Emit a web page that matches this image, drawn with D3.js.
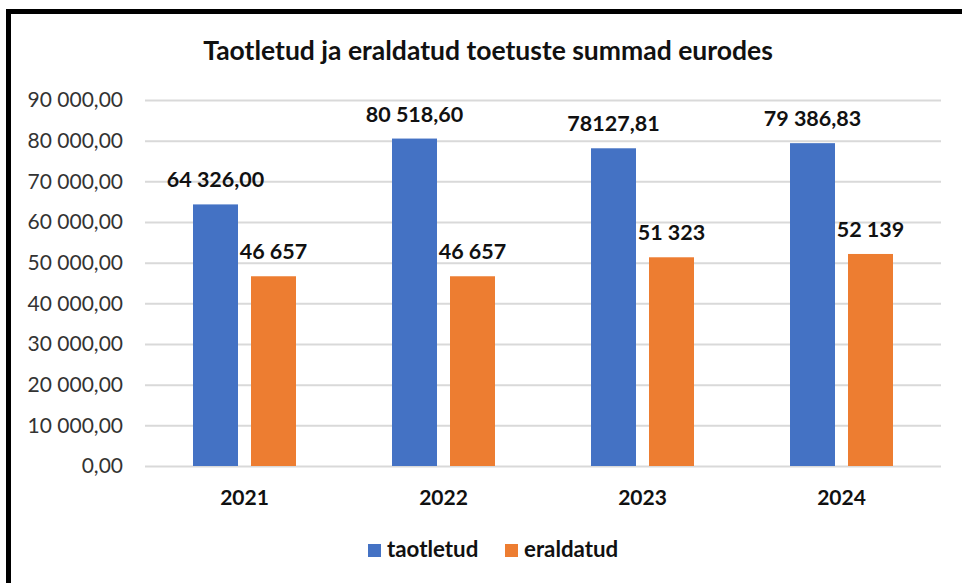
<!DOCTYPE html>
<html><head><meta charset="utf-8">
<script src="https://cdn.jsdelivr.net/npm/d3@7"></script>
<style>body{margin:0;background:#fff;}svg{display:block;font-family:Lato,"Open Sans",sans-serif;}</style>
</head><body><svg id="c" width="962" height="583"></svg>
<script>
const categories = ["2021","2022","2023","2024"];
const seriesNames = ["taotletud","eraldatud"];
const taotletud = [64326.00, 80518.60, 78127.81, 79386.83];
const eraldatud = [46657, 46657, 51323, 52139];
const taotletudLabels = ["64 326,00","80 518,60","78127,81","79 386,83"];
const eraldatudLabels = ["46 657","46 657","51 323","52 139"];
const yTicks = [0,10000,20000,30000,40000,50000,60000,70000,80000,90000];
const colors = ["#4472C4","#ED7D31"];

const svg = d3.select("#c");
svg.append("rect").attr("x",8.5).attr("y",11.5).attr("width",1000).attr("height",700)
  .attr("fill","none").attr("stroke","#000").attr("stroke-width",5);

const x = d3.scaleBand().domain(categories).range([145,941]);
const y = d3.scaleLinear().domain([0,90000]).range([466,100]);
const fmt = v => d3.format(",.2f")(v).replace(/,/g," ").replace(".",",");

svg.append("text").attr("x",488).attr("y",60).attr("text-anchor","middle")
  .attr("font-size",26.5).attr("font-weight","bold").attr("fill","#111")
  .text("Taotletud ja eraldatud toetuste summad eurodes");

const yAxis = svg.append("g").attr("transform","translate(145,0)")
  .call(d3.axisLeft(y).tickValues(yTicks).tickFormat(fmt).tickSize(-796).tickPadding(22));
yAxis.select(".domain").remove();
yAxis.selectAll(".tick line").attr("stroke","#d9d9d9").attr("stroke-width",2);
yAxis.selectAll(".tick text").attr("font-size",21).attr("fill","#333").attr("font-family","Lato,sans-serif");

const xAxis = svg.append("g").attr("transform","translate(0,466)")
  .call(d3.axisBottom(x).tickSize(0).tickPadding(24));
xAxis.select(".domain").remove();
xAxis.selectAll(".tick text").attr("font-size",21).attr("font-weight","bold").attr("fill","#111").attr("font-family","Lato,sans-serif");

const barW = 45, gap = 13;
const data = [taotletud, eraldatud];
const labels = [taotletudLabels, eraldatudLabels];
data.forEach((vals, s) => {
  const off = s === 0 ? -(barW + gap/2) : gap/2;
  svg.append("g").selectAll("rect").data(vals).join("rect")
    .attr("x",(d,i)=>x(categories[i])+x.bandwidth()/2+off)
    .attr("y",d=>y(d)).attr("width",barW).attr("height",d=>466-y(d))
    .attr("fill",colors[s]);
  svg.append("g").selectAll("text").data(vals).join("text")
    .attr("x",(d,i)=>x(categories[i])+x.bandwidth()/2+off+barW/2)
    .attr("y",d=>y(d)-17).attr("text-anchor","middle")
    .attr("font-size",21.5).attr("font-weight","bold").attr("fill","#111")
    .text((d,i)=>labels[s][i]);
});

const leg = svg.append("g");
const legX = [368, 505];
seriesNames.forEach((n,i)=>{
  leg.append("rect").attr("x",legX[i]).attr("y",544).attr("width",13).attr("height",13).attr("fill",colors[i]);
  leg.append("text").attr("x",legX[i]+19).attr("y",557).attr("font-size",22.3).attr("font-weight","bold").attr("fill","#111").text(n);
});
</script></body></html>
